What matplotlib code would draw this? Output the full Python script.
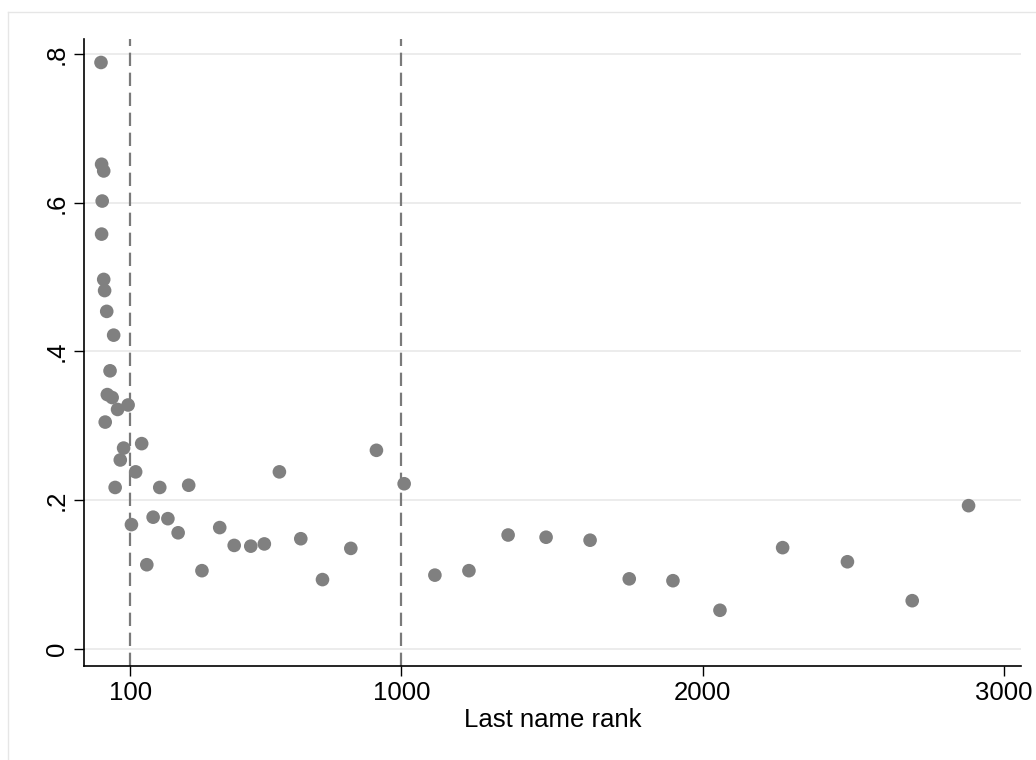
import matplotlib
matplotlib.use("Agg")
import matplotlib.pyplot as plt
from matplotlib.lines import Line2D

plt.rcParams['font.family'] = ['Liberation Sans', 'DejaVu Sans']

rank = [3, 5, 12, 7, 5, 12, 15, 22, 45, 33,
        24, 40, 58, 93, 17, 138, 78, 67, 118, 50,
        198, 294, 595, 917, 1009, 104, 176, 225, 259, 397,
        445, 500, 545, 666, 832, 155, 338, 738, 1111, 1224,
        1354, 1480, 1626, 1756, 1901, 2057, 2265, 2480, 2695, 2882]
share = [0.789, 0.652, 0.643, 0.6025, 0.558, 0.497, 0.482, 0.454, 0.422, 0.374,
         0.342, 0.338, 0.322, 0.328, 0.305, 0.276, 0.270, 0.254, 0.238, 0.217,
         0.217, 0.220, 0.238, 0.267, 0.222, 0.167, 0.177, 0.175, 0.156, 0.163,
         0.139, 0.138, 0.141, 0.148, 0.135, 0.113, 0.105, 0.093, 0.099, 0.105,
         0.153, 0.150, 0.146, 0.094, 0.0915, 0.0517, 0.136, 0.117, 0.0646, 0.1925]

xticks = [100, 1000, 2000, 3000]
xticklabels = ["100", "1000", "2000", "3000"]
yticks = [0, 0.2, 0.4, 0.6, 0.8]
yticklabels = ["0", ".2", ".4", ".6", ".8"]
vlines = [100, 1000]
xlabel = "Last name rank"

W, H = 1036, 760
fig = plt.figure(figsize=(W / 100, H / 100), dpi=100)
fig.patch.set_facecolor('white')

# outer light border (Stata graph region)
fig.add_artist(Line2D([8 / W, 8 / W], [0, 1 - 12 / H], transform=fig.transFigure,
                      color='#e6e6e6', lw=1))
fig.add_artist(Line2D([8 / W, 1], [1 - 12 / H, 1 - 12 / H], transform=fig.transFigure,
                      color='#e6e6e6', lw=1))

left, right = 84 / W, 1021 / W
bottom, top = 1 - 665.7 / H, 1 - 39 / H
ax = fig.add_axes([left, bottom, right - left, top - bottom])

ax.set_xlim(-53.4, 3056)
ax.set_ylim(-0.0229, 0.8206)

for y in yticks:
    ax.axhline(y, color='#eaeaea', lw=1.3, zorder=0)

for v in vlines:
    ax.axvline(v, color='#7a7a7a', lw=1.6, dashes=(6, 3), zorder=1)

ax.scatter(rank, share, s=96, color='#808080', edgecolors='none', zorder=3)

ax.spines['top'].set_visible(False)
ax.spines['right'].set_visible(False)
ax.spines['left'].set_linewidth(1.2)
ax.spines['bottom'].set_linewidth(1.2)

ax.set_xticks(xticks)
ax.set_xticklabels(xticklabels, fontsize=18.5)
ax.set_yticks(yticks)
ax.set_yticklabels(yticklabels, fontsize=18.5, rotation=90, va='center')
ax.tick_params(axis='both', length=7, width=1.0, direction='out', pad=4)
ax.set_xlabel(xlabel, fontsize=18.5, labelpad=2)

fig.savefig("out.png", dpi=100, facecolor='white')
